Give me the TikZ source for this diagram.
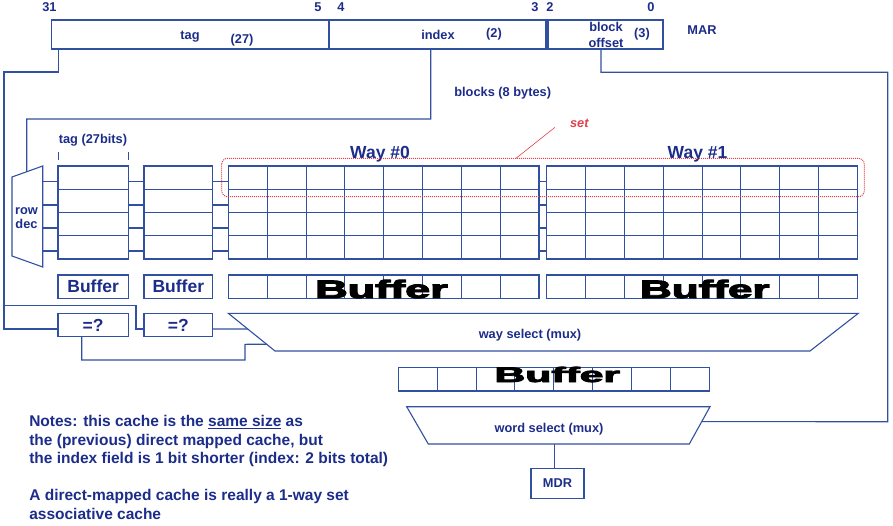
\documentclass[tikz,border=0pt]{standalone}
\usepackage{fontspec}
\setmainfont{Liberation Sans}
\newfontfamily\heavyfont{Liberation Sans}[FakeBold=3.5]
\usepackage{graphicx}
\usetikzlibrary{calc}
\definecolor{ln}{RGB}{50,80,160}
\definecolor{tx}{RGB}{28,44,138}
\definecolor{setred}{RGB}{225,65,75}
\newcommand\mkbox[7]{\node[box,#2,minimum width={#5-#3},minimum height={#6-#4}] (#1) at (#3,#4) {#7};}
\begin{document}
\begin{tikzpicture}[x=1pt,y=-1pt,
  every node/.style={inner sep=0pt,outer sep=0pt},
  wire/.style={draw=ln,line width=1.1pt},
  gridln/.style={draw=ln,line width=0.9pt},
  box/.style={draw=ln,line width=1.1pt,rectangle,anchor=north west,text=tx,font=\bfseries\fontsize{17.5}{20}\selectfont},
  lbl/.style={anchor=base,text=tx,font=\bfseries\fontsize{12.8}{15}\selectfont},
  waylbl/.style={anchor=base,text=tx,font=\bfseries\fontsize{17.5}{20}\selectfont},
  note/.style={anchor=base west,text=tx,font=\bfseries\fontsize{15.5}{18}\selectfont},
  heavy/.style={anchor=base,text=black,font=\heavyfont\bfseries\fontsize{20}{20}\selectfont},
  setbox/.style={draw=setred,densely dotted,line width=1pt,rounded corners=6pt},
  setlbl/.style={anchor=base,text=setred,font=\bfseries\itshape\fontsize{12.8}{15}\selectfont},
]
\useasboundingbox (0,0) rectangle (893,526);

% ---------- MAR ----------
\mkbox{tagf}{}{51.7}{20}{329}{49}{}
\mkbox{idxf}{}{329}{20}{546}{49}{}
\mkbox{offf}{}{548}{20}{663}{49}{}
\node[lbl] (b31) at (49.5,11.7) {31};
\node[lbl] (b5) at (318,11.7) {5};
\node[lbl] (b4) at (341,11.7) {4};
\node[lbl] (b3) at (535,11.7) {3};
\node[lbl] (b2) at (550,11.7) {2};
\node[lbl] (b0) at (651,11.7) {0};
\node[lbl] (tagt) at (190,39.5) {tag};
\node[lbl] (tagn) at (242,44) {(27)};
\node[lbl] (idxt) at (438,39.3) {index};
\node[lbl] (idxn) at (494,37.3) {(2)};
\node[lbl] (offt1) at (606,31.7) {block};
\node[lbl] (offt2) at (606,47.7) {offset};
\node[lbl] (offn) at (642,37.3) {(3)};
\node[lbl] (mar) at (702,35) {MAR};
\node[lbl] (blk) at (502.7,96.3) {blocks (8 bytes)};

% ---------- row decoder ----------
\coordinate (rd1) at (12,177);
\coordinate (rd2) at (42.7,166);
\coordinate (rd3) at (42.7,267);
\coordinate (rd4) at (12,256);
\draw[wire] (rd1)--(rd2)--(rd3)--(rd4)--cycle;
\node[lbl] (rowl) at (26.5,215) {row};
\node[lbl] (decl) at (26.5,229) {dec};

% ---------- arrays ----------
\node[lbl] (tagbits) at (93,143.5) {tag (27bits)};
\mkbox{tagarr}{}{58}{166}{128.3}{259}{}
\mkbox{valarr}{}{144}{166}{212.7}{259}{}
\mkbox{way0}{}{228.3}{166}{539}{259}{}
\mkbox{way1}{}{546.7}{166}{857.3}{259}{}
\draw[gridln] (tagarr.north west |- 0,152) -- (tagarr.north west |- 0,160);
\draw[gridln] (tagarr.north east |- 0,152) -- (tagarr.north east |- 0,160);
\node[waylbl] (w0l) at (380,158.3) {Way \#0};
\node[waylbl] (w1l) at (697.5,158.3) {Way \#1};

% ---------- buffers ----------
\mkbox{tbuf}{}{58}{275}{128.3}{298.3}{Buffer}
\mkbox{vbuf}{}{144}{275}{212.7}{298.3}{Buffer}
\mkbox{w0buf}{}{228.3}{275}{539}{298.3}{}
\mkbox{w1buf}{}{546.7}{275}{857.3}{298.3}{}
\mkbox{obuf}{}{398.3}{367.3}{709.3}{391}{}

\foreach \n in {tagarr,valarr,way0,way1}
  \foreach \f in {0.25,0.5,0.75}
    \draw[gridln] ($(\n.north west)!\f!(\n.south west)$) -- ($(\n.north east)!\f!(\n.south east)$);
\foreach \n in {way0,way1,w0buf,w1buf,obuf}
  \foreach \i in {1,...,7}
    \draw[gridln] ($(\n.north west)!\i/8!(\n.north east)$) -- ($(\n.south west)!\i/8!(\n.south east)$);

\foreach \y in {181.7,205,228,251} {
  \draw[wire] (rd2 |- 0,\y) -- (tagarr.west |- 0,\y);
  \draw[wire] (tagarr.east |- 0,\y) -- (valarr.west |- 0,\y);
  \draw[wire] (valarr.east |- 0,\y) -- (way0.west |- 0,\y);
  \draw[wire] (way0.east |- 0,\y) -- (way1.west |- 0,\y);
}

% ---------- set ----------
\draw[setbox] (221.7,158.3) rectangle (864.3,196.7);
\node[setlbl] (setl) at (579.3,127.7) {set};
\coordinate (setp) at (516,158.3);
\coordinate (setq) at (555,127.3);
\draw[setred,line width=0.6pt] (setq) -- (setp);

% ---------- comparators ----------
\mkbox{cmp0}{}{58}{313.3}{128.3}{336.7}{=?}
\mkbox{cmp1}{}{144}{313.3}{212.7}{336.7}{=?}

% ---------- way select mux ----------
\coordinate (ws1) at (228.3,313.3);
\coordinate (ws2) at (858.3,313.3);
\coordinate (ws3) at (810,351);
\coordinate (ws4) at (275,351);
\draw[wire] (ws1)--(ws2)--(ws3)--(ws4)--cycle;
\node[lbl] (wsl) at (530,338) {way select (mux)};

% ---------- word select mux ----------
\coordinate (wm1) at (406.7,406.7);
\coordinate (wm2) at (710,406.7);
\coordinate (wm3) at (689.3,444);
\coordinate (wm4) at (428.3,444);
\draw[wire] (wm1)--(wm2)--(wm3)--(wm4)--cycle;
\node[lbl] (wml) at (549,432.3) {word select (mux)};

\mkbox{mdr}{font=\bfseries\fontsize{12.8}{15}\selectfont}{531}{468.3}{584}{498.3}{MDR}

% ---------- connectors ----------
\draw[wire] (tagf.south west -| 58.7,0) -- (58.7,72) -- (4,72) -- (4,329) -- (cmp0.west |- 0,329);
\draw[wire] (4,305.7) -- (136,305.7) -- (136,329) -- (cmp1.west |- 0,329);
\draw[wire] (cmp1.east |- 0,329) -- ($(ws1)!0.4164!(ws4)$);
\draw[wire] (cmp0.south -| 81.7,0) -- (81.7,360) -- (245,360) -- (245,344.3) -- ($(ws1)!0.822!(ws4)$);
\draw[wire] (idxf.south -| 430.7,0) -- (430.7,119) -- (26.7,119) -- ($(rd1)!0.479!(rd2)$);
\draw[wire] (offf.south -| 601,0) -- (601,72.3) -- (887.7,72.3) -- (887.7,421.7) -- ($(wm2)!0.402!(wm3)$);
\draw[wire] (554.3,444) -- (mdr.north -| 554.3,0);

% ---------- heavy Buffer labels ----------
\node[heavy] (hb0) at (381.5,298) {\scalebox{2.25}[1.26]{Buffer}};
\node[heavy] (hb1) at (704.8,298) {\scalebox{2.2}[1.26]{Buffer}};
\node[heavy] (hb2) at (557.3,382) {\scalebox{2.13}[1.05]{Buffer}};

% ---------- notes ----------
\node[note] (n1) at (29.3,426.7) {Notes: this cache is the \underline{same size} as};
\node[note] (n2) at (29.3,445) {the (previous) direct mapped cache, but};
\node[note] (n3) at (29.3,463.3) {the index field is 1 bit shorter (index: 2 bits total)};
\node[note] (n4) at (29.3,500) {A direct-mapped cache is really a 1-way set};
\node[note] (n5) at (29.3,519.3) {associative cache};
\end{tikzpicture}
\end{document}
